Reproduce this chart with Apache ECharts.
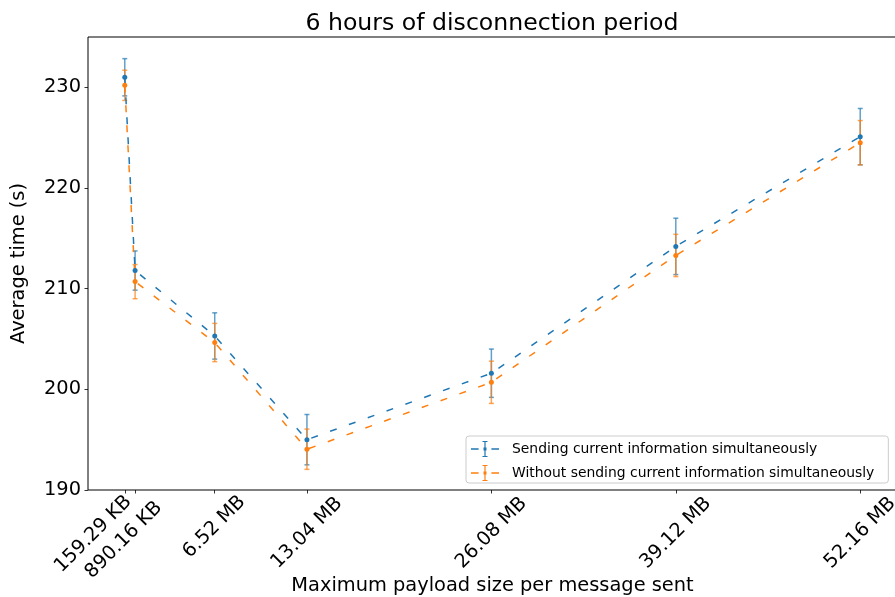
<!DOCTYPE html>
<html><head><meta charset="utf-8">
<script src="https://cdn.jsdelivr.net/npm/echarts@6/dist/echarts.min.js"></script>
<style>html,body{margin:0;padding:0;background:#fff}#c{width:895px;height:597px}</style>
</head><body><div id="c"></div>
<script>
// ---- data ----
const xLabels = ['159.29 KB', '890.16 KB', '6.52 MB', '13.04 MB', '26.08 MB', '39.12 MB', '52.16 MB'];
const xValues = [0.15929, 0.89016, 6.52, 13.04, 26.08, 39.12, 52.16];
const yTicks = [190, 200, 210, 220, 230];
const sendMean = [231.0, 211.8, 205.3, 195.0, 201.6, 214.2, 225.1];
const sendErr = [1.85, 1.95, 2.3, 2.5, 2.4, 2.8, 2.8];
const withoutMean = [230.2, 210.7, 204.65, 194.05, 200.7, 213.3, 224.5];
const withoutErr = [1.5, 1.7, 1.9, 2.0, 2.1, 2.1, 2.2];
const seriesNames = ['Sending current information simultaneously', 'Without sending current information simultaneously'];

// ---- styling ----
const F = 'DejaVu Sans';
const FS = 19.4;
const BLUE = '#1f77b4', ORANGE = '#ff7f0e';
const BLUE_A = 'rgba(31,119,180,0.7)', ORANGE_A = 'rgba(255,127,14,0.7)';
const ICON = 'path://M0,7.25h7.6v1.5h-7.6z M20.4,7.25h7.6v1.5h-7.6z M13.4,0h1.2v16h-1.2z M11.5,0h5v1h-5z M11.5,15h5v1h-5z M12.5,6.5h3v3h-3z';
const labelPad = [[0, 46, 43, 0], [0, 26, 6, 0], [0, 0, 9, 8], [0, 0, 0, 0], [0, 0, 0, 0], [0, 0, 0, 0], [0, 0, 0, 0]];

function pts(mean) { return xValues.map((x, i) => [x, mean[i]]); }
function bars(mean, err) { return xValues.map((x, i) => [x, mean[i] - err[i], mean[i] + err[i]]); }
function errRender(color) {
  return function (params, api) {
    const x = api.value(0);
    const lo = api.coord([x, api.value(1)]);
    const hi = api.coord([x, api.value(2)]);
    const w = 2.5;
    const st = { stroke: color, lineWidth: 1.5, fill: null };
    return { type: 'group', children: [
      { type: 'line', shape: { x1: lo[0], y1: lo[1], x2: hi[0], y2: hi[1] }, style: st },
      { type: 'line', shape: { x1: hi[0] - w, y1: hi[1], x2: hi[0] + w, y2: hi[1] }, style: st },
      { type: 'line', shape: { x1: lo[0] - w, y1: lo[1], x2: lo[0] + w, y2: lo[1] }, style: st }
    ] };
  };
}
function nearestIdx(v) {
  let b = 0;
  for (let i = 1; i < xValues.length; i++) if (Math.abs(xValues[i] - v) < Math.abs(xValues[b] - v)) b = i;
  return b;
}
const rich = {};
labelPad.forEach((p, i) => { rich['l' + i] = { fontFamily: F, fontSize: FS, color: '#000', padding: p }; });

const chart = echarts.init(document.getElementById('c'), null, { renderer: 'canvas' });
chart.setOption({
  animation: false,
  backgroundColor: '#fff',
  title: {
    text: '6 hours of disconnection period', left: 487, top: 7, textAlign: 'center',
    textStyle: { fontFamily: F, fontSize: 23.6, fontWeight: 'normal', color: '#000' }
  },
  grid: { left: 88, top: 37, width: 809, height: 453, show: true, borderColor: '#000', borderWidth: 1, outerBoundsMode: 'none', containLabel: false },
  legend: {
    left: 466, top: 436, orient: 'vertical', itemWidth: 28, itemHeight: 16, itemGap: 8,
    padding: [5, 14, 2, 5], borderColor: '#cccccc', borderWidth: 1, borderRadius: 3,
    backgroundColor: 'rgba(255,255,255,0.8)', selectedMode: false,
    textStyle: { fontFamily: F, fontSize: 13.9, color: '#000', padding: [0, 0, 0, 8] },
    itemStyle: { borderWidth: 0 },
    data: [{ name: seriesNames[0], icon: ICON }, { name: seriesNames[1], icon: ICON }]
  },
  xAxis: {
    type: 'value', min: -2.44, max: 54.76,
    name: 'Maximum payload size per message sent', nameLocation: 'middle', nameGap: 86, nameMoveOverlap: false,
    nameTextStyle: { fontFamily: F, fontSize: FS, color: '#000' },
    axisLine: { show: false, onZero: false }, splitLine: { show: false },
    axisTick: { show: true, length: 3.5, customValues: xValues, lineStyle: { color: '#000', width: 0.8 } },
    axisLabel: {
      customValues: xValues, rotate: 45, align: 'center', verticalAlign: 'middle', margin: 43,
      fontFamily: F, fontSize: FS, color: '#000',
      formatter: function (v) { const i = nearestIdx(v); return '{l' + i + '|' + xLabels[i] + '}'; },
      rich: rich
    }
  },
  yAxis: {
    type: 'value', min: 190, max: 235,
    name: 'Average time (s)', nameLocation: 'middle', nameGap: 69, nameRotate: 90, nameMoveOverlap: false,
    nameTextStyle: { fontFamily: F, fontSize: FS, color: '#000', verticalAlign: 'middle' },
    axisLine: { show: false, onZero: false }, splitLine: { show: false },
    axisTick: { show: true, length: 3.5, customValues: yTicks, lineStyle: { color: '#000', width: 0.8 } },
    axisLabel: { customValues: yTicks, margin: 7, fontFamily: F, fontSize: FS, color: '#000' }
  },
  series: [
    { name: '_err0', type: 'custom', renderItem: errRender(BLUE_A), data: bars(sendMean, sendErr), silent: true, z: 2 },
    { name: seriesNames[0], type: 'line', data: pts(sendMean), symbol: 'circle', symbolSize: 5, showSymbol: true,
      itemStyle: { color: BLUE }, lineStyle: { color: BLUE, width: 1.5, type: [7, 13] }, z: 2, silent: true },
    { name: '_err1', type: 'custom', renderItem: errRender(ORANGE_A), data: bars(withoutMean, withoutErr), silent: true, z: 2 },
    { name: seriesNames[1], type: 'line', data: pts(withoutMean), symbol: 'circle', symbolSize: 5, showSymbol: true,
      itemStyle: { color: ORANGE }, lineStyle: { color: ORANGE, width: 1.5, type: [7, 13] }, z: 2, silent: true }
  ]
});
</script></body></html>
